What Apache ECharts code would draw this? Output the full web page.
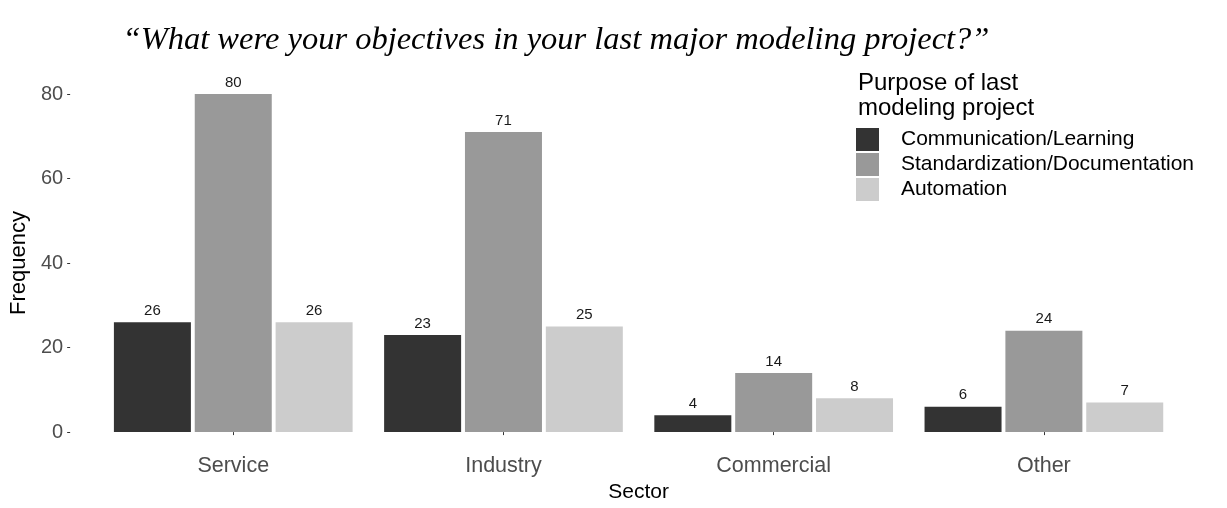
<!DOCTYPE html>
<html>
<head>
<meta charset="utf-8">
<script src="https://cdn.jsdelivr.net/npm/echarts@6/dist/echarts.min.js"></script>
<style>
  html, body { margin: 0; padding: 0; background: #ffffff; overflow: hidden; }
  #chart { width: 1227px; height: 508px; }
</style>
</head>
<body>
<div id="chart"></div>
<script>
// Sectors on the x axis
const sectors = ['Service', 'Industry', 'Commercial', 'Other'];
// Purpose groups (legend entries)
const purposes = ['Communication/Learning', 'Standardization/Documentation', 'Automation'];
// Frequencies per purpose, one value per sector
const communication = [26, 23, 4, 6];
const standardization = [80, 71, 14, 24];
const automation = [26, 25, 8, 7];
// Y axis ticks
const yTicks = [0, 20, 40, 60, 80];

const greys = ['#333333', '#999999', '#cccccc'];
const seriesValues = [communication, standardization, automation];

const chart = echarts.init(document.getElementById('chart'), null, { renderer: 'canvas' });

const sansFont = '"Liberation Sans", Arial, sans-serif';

chart.setOption({
  animation: false,
  backgroundColor: '#ffffff',
  title: [
    {
      text: '\u201CWhat were your objectives in your last major modeling project?\u201D',
      left: 551,
      textAlign: 'center',
      top: 19,
      textStyle: {
        fontFamily: '"Liberation Serif", "Times New Roman", serif',
        fontStyle: 'italic',
        fontWeight: 'normal',
        fontSize: 32.5,
        color: '#000000'
      }
    },
    {
      text: 'Purpose of last\nmodeling project',
      left: 853,
      top: 66,
      textStyle: {
        fontFamily: sansFont,
        fontWeight: 'normal',
        fontSize: 24,
        lineHeight: 25,
        color: '#000000'
      }
    }
  ],
  legend: {
    data: purposes,
    orient: 'vertical',
    left: 856,
    top: 128,
    itemWidth: 23,
    itemHeight: 23,
    itemGap: 2,
    icon: 'rect',
    padding: 0,
    selectedMode: false,
    textStyle: {
      fontFamily: sansFont,
      fontSize: 21,
      color: '#000000',
      padding: [0, 0, 0, 17]
    }
  },
  grid: {
    left: 92,
    right: 48,
    top: 94,
    height: 344,
    containLabel: false
  },
  xAxis: {
    type: 'category',
    data: sectors,
    offset: 18,
    name: 'Sector',
    nameLocation: 'middle',
    nameGap: 28,
    nameTextStyle: {
      fontFamily: sansFont,
      fontSize: 21,
      color: '#000000'
    },
    axisLine: { show: false },
    axisTick: {
      show: true,
      alignWithLabel: true,
      length: 3,
      lineStyle: { color: '#333333', width: 1 }
    },
    axisLabel: {
      fontFamily: sansFont,
      fontSize: 21.5,
      color: '#4d4d4d',
      margin: 5
    },
    splitLine: { show: false }
  },
  yAxis: {
    type: 'value',
    min: yTicks[0],
    max: yTicks[yTicks.length - 1],
    interval: yTicks[1] - yTicks[0],
    offset: 28,
    name: 'Frequency',
    nameLocation: 'middle',
    nameGap: 40,
    nameRotate: 90,
    nameTextStyle: {
      fontFamily: sansFont,
      fontSize: 22,
      color: '#000000'
    },
    axisLine: { show: false },
    axisTick: {
      show: true,
      length: 3,
      lineStyle: { color: '#333333', width: 1 }
    },
    axisLabel: {
      fontFamily: sansFont,
      fontSize: 20,
      color: '#4d4d4d',
      margin: 7
    },
    splitLine: { show: false }
  },
  series: purposes.map((name, i) => ({
    name: name,
    type: 'bar',
    data: seriesValues[i],
    barWidth: 77,
    barGap: '5%',
    itemStyle: { color: greys[i] },
    label: {
      show: true,
      position: 'top',
      distance: 4,
      fontFamily: sansFont,
      fontSize: 15,
      color: '#1a1a1a'
    }
  }))
});
</script>
</body>
</html>
